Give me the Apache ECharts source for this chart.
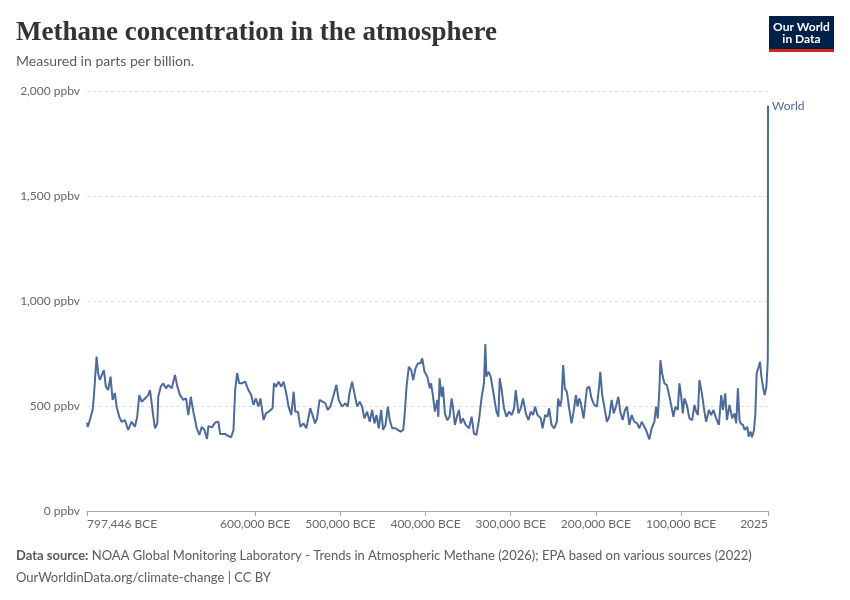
<!DOCTYPE html>
<html>
<head>
<meta charset="utf-8">
<script src="https://cdn.jsdelivr.net/npm/echarts@6/dist/echarts.min.js"></script>
<style>
html,body{margin:0;padding:0;background:#fff;}
#chart{width:850px;height:600px;}
</style>
</head>
<body>
<div id="chart"></div>
<script>
// Years (negative = BCE) and methane concentration (ppbv)
const years = [
-797446,-796500,-794100,-790900,-789400,-786200,-784400,-782400,-780400,-777600,
-775300,-772600,-769800,-767400,-764700,-762700,-759600,-756800,-752900,-749100,
-745100,-741200,-738500,-736100,-733300,-729400,-725500,-723500,-721500,-719600,
-717600,-714900,-713800,-710900,-707900,-704700,-702000,-698000,-694100,-691400,
-688200,-684400,-681200,-678500,-675600,-672600,-668600,-665500,-662700,-659600,
-656500,-654900,-650900,-647100,-643200,-641200,-635300,-631400,-628200,-625500,
-623500,-621200,-618800,-615600,-611800,-607900,-604700,-602000,-599200,-596100,
-593800,-590200,-587400,-584300,-579600,-578000,-575600,-572600,-569400,-566700,
-563900,-560800,-557600,-554900,-552900,-549800,-547000,-543200,-540000,-535300,
-531400,-529800,-527400,-524400,-520300,-517600,-514900,-511800,-507900,-504700,
-502000,-498000,-494100,-491400,-489000,-486200,-483500,-480300,-477300,-474500,
-471800,-468600,-465500,-462700,-460000,-457600,-454900,-452100,-449800,-447000,
-444300,-442000,-439200,-435300,-432600,-429400,-426200,-424700,-422300,-419600,
-416800,-414500,-411800,-409000,-405900,-403900,-401200,-398000,-394900,-393500,
-391400,-389000,-386200,-385000,-383500,-381200,-379600,-377300,-374500,-371800,
-369400,-367900,-365500,-362700,-360800,-358800,-356100,-352900,-349000,-345900,
-343200,-340300,-337300,-334100,-331400,-329800,-328600,-326200,-323500,-319600,
-316800,-314500,-312900,-310600,-307900,-305000,-302000,-298800,-296100,-294100,
-290900,-288200,-285500,-282300,-279200,-276500,-273800,-271400,-268600,-264700,
-262700,-259600,-256800,-254900,-252100,-249000,-245900,-244300,-242000,-240300,
-238500,-236500,-234100,-231400,-228600,-226200,-223500,-221500,-219600,-217600,
-214500,-212900,-210600,-207900,-205100,-202000,-198800,-196100,-194900,-192600,
-190200,-187100,-184300,-181500,-179100,-176500,-173700,-171400,-168600,-165900,
-163500,-160800,-158000,-154900,-151700,-149000,-146200,-143900,-141200,-137300,
-134500,-131400,-129400,-127400,-125500,-124300,-122300,-119600,-116800,-114500,
-111700,-109000,-106700,-103900,-102000,-100000,-98000,-96100,-93300,-90200,
-87000,-84300,-82300,-80300,-78500,-75600,-72600,-70600,-67400,-64700,
-62000,-58800,-55600,-52900,-50900,-48200,-46200,-43200,-40000,-37300,
-35300,-33300,-31400,-30100,-27400,-25400,-22200,-20700,-18300,-16800,
-14400,-12800,-11300,-8900,-7400,-5700,-3900,-1900,140,1320,
1750,1850,1900,1950,1980,1990,2000,2010,2020,2025
];
const methane = [
420,400,433,481,544,735,657,624,616,671,
592,576,640,529,562,497,449,425,433,386,
425,401,449,552,520,536,552,576,513,449,
394,417,544,592,608,584,600,584,648,592,
552,529,536,457,544,473,394,362,401,386,
343,404,398,421,425,367,367,357,351,386,
576,656,608,608,616,576,552,505,536,497,
536,433,465,473,489,608,592,616,592,616,
568,497,457,568,473,473,401,417,394,489,
441,417,441,529,520,513,481,497,552,600,
529,497,513,497,568,616,560,497,520,497,
441,473,425,481,417,457,394,481,386,410,
497,433,394,394,386,378,386,449,592,687,
671,624,679,703,703,727,663,640,584,608,
552,473,529,449,632,544,592,465,433,449,
536,497,410,457,481,417,441,410,394,449,
370,362,433,544,608,795,640,663,640,544,
473,449,632,576,489,449,473,457,489,576,
465,489,536,465,433,473,457,497,457,441,
394,457,449,489,410,394,425,536,497,529,
695,584,568,489,417,473,552,497,536,513,
441,497,584,592,536,505,497,600,663,552,
497,425,449,529,465,497,544,473,433,481,
497,410,457,425,417,394,425,433,386,341,
394,425,497,441,576,719,656,608,600,560,
505,449,497,481,608,552,465,536,505,441,
433,505,473,457,624,560,473,425,481,457,
481,441,410,552,481,560,433,505,441,465,
417,584,433,417,410,386,401,354,378,351,
386,465,656,687,711,640,592,552,592,679,
720,790,900,1150,1570,1714,1773,1799,1879,1930
];
const yTicks = [0, 500, 1000, 1500, 2000];
const xTicks = [-797446, -600000, -500000, -400000, -300000, -200000, -100000, 2025];

const lineColor = '#4c6a9c';
const data = years.map((y, i) => [y, methane[i]]);

const chart = echarts.init(document.getElementById('chart'));
chart.setOption({
  animation: false,
  backgroundColor: '#fff',
  textStyle: { fontFamily: 'Lato' },
  title: [
    {
      text: 'Methane concentration in the atmosphere',
      left: 11, top: 15,
      textStyle: { fontFamily: 'Liberation Serif', fontSize: 27, fontWeight: 'bold', color: '#333' }
    },
    {
      text: 'Measured in parts per billion.',
      left: 11, top: 49,
      textStyle: { fontFamily: 'Lato', fontSize: 14, fontWeight: 'normal', color: '#5b5b5b' }
    },
    {
      text: '{b|Data source:} NOAA Global Monitoring Laboratory - Trends in Atmospheric Methane (2026); EPA based on various sources (2022)',
      left: 11, top: 544,
      textStyle: {
        fontFamily: 'Lato', fontSize: 13, fontWeight: 'normal', color: '#5b5b5b',
        rich: { b: { fontFamily: 'Lato', fontSize: 13, fontWeight: 'bold', color: '#5b5b5b' } }
      }
    },
    {
      text: 'OurWorldinData.org/climate-change | CC BY',
      left: 11, top: 566,
      textStyle: { fontFamily: 'Lato', fontSize: 13, fontWeight: 'normal', color: '#5b5b5b' }
    }
  ],
  graphic: [
    { type: 'rect', shape: { x: 769, y: 16, width: 65, height: 36 }, style: { fill: '#002147' } },
    { type: 'rect', shape: { x: 769, y: 49, width: 65, height: 3 }, style: { fill: '#ce261e' } },
    { type: 'text', x: 801.5, y: 27, style: { text: 'Our World', fill: '#fff', font: 'bold 12px Lato', align: 'center', verticalAlign: 'middle' } },
    { type: 'text', x: 801.5, y: 39.5, style: { text: 'in Data', fill: '#fff', font: 'bold 12px Lato', align: 'center', verticalAlign: 'middle' } }
  ],
  grid: { left: 87, right: 82, top: 91, bottom: 89, containLabel: false },
  xAxis: {
    type: 'value',
    min: -797446,
    max: 2025,
    splitLine: { show: false },
    axisLine: { show: true, lineStyle: { color: '#aaa', width: 1 } },
    axisTick: { show: true, length: 5, lineStyle: { color: '#aaa' }, customValues: xTicks },
    axisLabel: {
      customValues: xTicks,
      color: '#666', fontSize: 12, fontFamily: 'Lato', margin: 7,
      alignMinLabel: 'left', alignMaxLabel: 'right',
      showMinLabel: true, showMaxLabel: true,
      formatter: v => v < 0 ? Math.round(-v).toLocaleString('en-US') + ' BCE' : String(v)
    }
  },
  yAxis: {
    type: 'value',
    min: 0, max: 2000, interval: 500,
    axisLine: { show: false },
    axisTick: { show: false },
    splitLine: { show: true, lineStyle: { color: '#ddd', type: [3, 3], width: 1 } },
    axisLabel: {
      customValues: yTicks,
      color: '#666', fontSize: 12, fontFamily: 'Lato', margin: 7,
      formatter: v => v.toLocaleString('en-US') + ' ppbv'
    }
  },
  series: [{
    type: 'line',
    name: 'World',
    data: data,
    showSymbol: false,
    symbol: 'none',
    lineStyle: { color: lineColor, width: 2 },
    itemStyle: { color: lineColor },
    endLabel: { show: true, formatter: 'World', color: lineColor, fontSize: 12, fontFamily: 'Lato', distance: 4 }
  }]
});
</script>
</body>
</html>
